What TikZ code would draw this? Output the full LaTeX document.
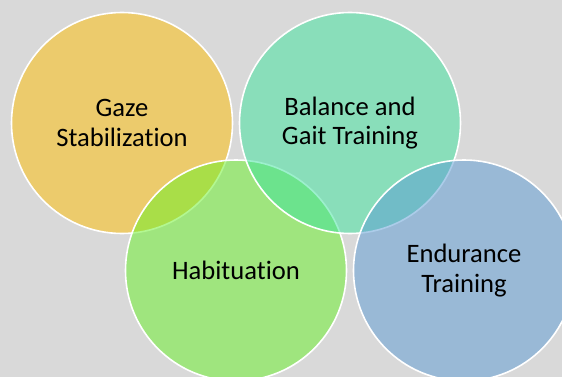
\documentclass[tikz,border=0pt]{standalone}
\usepackage{fontspec}
\setmainfont{Carlito}[Ligatures=NoCommon]
\definecolor{bggray}{HTML}{D9D9D9}
\definecolor{cyellow}{HTML}{FFBF00}
\definecolor{cteal}{HTML}{3BE39D}
\definecolor{cgreen}{HTML}{67F125}
\definecolor{cblue}{HTML}{5B9BD5}
\begin{document}
\begin{tikzpicture}[x=1pt,y=-1pt,
  venn/.style={circle, minimum size=221pt, inner sep=0pt, draw=white, line width=1.6pt,
    fill opacity=0.5, text opacity=1, text=black, align=center,
    font=\fontsize{26.6}{29.7}\selectfont}]
\fill[bggray] (0,0) rectangle (562,377);
\useasboundingbox (0,0) rectangle (562,377);
\clip (0,0) rectangle (562,377);
\node[venn, fill=cyellow] (gaze) at (122,123) {Gaze\\Stabilization};
\node[venn, fill=cgreen] (habit) at (236,270.5) {Habituation};
\node[venn, fill=cteal] (balance) at (350,123) {Balance and\\Gait Training};
\node[venn, fill=cblue] (endur) at (464,270.5) {Endurance\\Training};
\end{tikzpicture}
\end{document}
